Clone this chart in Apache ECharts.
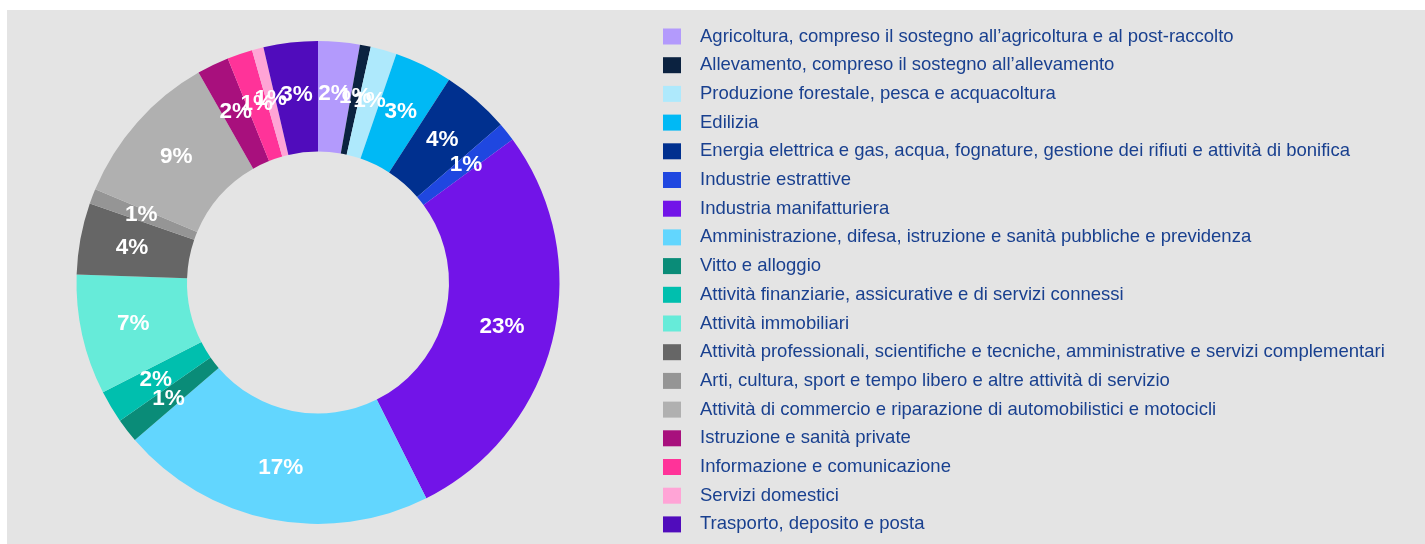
<!DOCTYPE html>
<html>
<head>
<meta charset="utf-8">
<script src="https://cdn.jsdelivr.net/npm/echarts@6/dist/echarts.min.js"></script>
<style>
    html, body { margin: 0; padding: 0; background: #ffffff; }
    #main { position: absolute; left: 7px; top: 10px; width: 1418px; height: 534px; }
</style>
</head>
<body>
<div id="main"></div>
<script>
// settori (ordine della legenda, in senso orario da ore 12)
var settori = [
    'Agricoltura, compreso il sostegno all\u2019agricoltura e al post-raccolto',
    'Allevamento, compreso il sostegno all\u2019allevamento',
    'Produzione forestale, pesca e acquacoltura',
    'Edilizia',
    'Energia elettrica e gas, acqua, fognature, gestione dei rifiuti e attività di bonifica',
    'Industrie estrattive',
    'Industria manifatturiera',
    'Amministrazione, difesa, istruzione e sanità pubbliche e previdenza',
    'Vitto e alloggio',
    'Attività finanziarie, assicurative e di servizi connessi',
    'Attività immobiliari',
    'Attività professionali, scientifiche e tecniche, amministrative e servizi complementari',
    'Arti, cultura, sport e tempo libero e altre attività di servizio',
    'Attività di commercio e riparazione di automobilistici e motocicli',
    'Istruzione e sanità private',
    'Informazione e comunicazione',
    'Servizi domestici',
    'Trasporto, deposito e posta'
];

// quote in % (stimate dal grafico)
var quote = [2.3, 0.6, 1.45, 3.2, 3.75, 1.03, 22.9, 17.45, 1.33, 1.8, 6.65, 3.95, 0.83, 8.65, 1.77, 1.4, 0.64, 3.0];

var colori = [
    '#b39afc', '#0b2240', '#aee9fc', '#00b9f5', '#00308f', '#1f47e0',
    '#7214e8', '#62d6fe', '#0a8c78', '#00bfae', '#66ebd9', '#666666',
    '#959595', '#b0b0b0', '#a8107d', '#ff3399', '#ffa4d6', '#500cbc'
];

var myChart = echarts.init(document.getElementById('main'));

var dati = [];
for (var i = 0; i < settori.length; i++) {
    dati.push({ name: settori[i], value: quote[i], itemStyle: { color: colori[i] } });
}

var option = {
    backgroundColor: '#e4e4e4',
    animation: false,
    legend: {
        orient: 'vertical',
        left: 651,
        top: 12,
        height: 530,
        itemWidth: 18,
        itemHeight: 16,
        itemGap: 9.7,
        icon: 'rect',
        selectedMode: false,
        data: settori,
        textStyle: {
            color: '#19408f',
            fontFamily: 'Liberation Sans',
            fontSize: 18.5,
            padding: [0, 0, 0, 14]
        }
    },
    series: [{
        type: 'pie',
        center: [311, 272.5],
        radius: [131, 241.5],
        startAngle: 90,
        clockwise: true,
        avoidLabelOverlap: false,
        silent: true,
        label: {
            show: true,
            position: 'inside',
            color: '#ffffff',
            fontFamily: 'Liberation Sans',
            fontWeight: 'bold',
            fontSize: 22.5,
            formatter: function (p) {
                return Math.round(p.value) + '%';
            }
        },
        labelLayout: { hideOverlap: false },
        labelLine: { show: false },
        itemStyle: { borderWidth: 0 },
        data: dati
    }]
};

myChart.setOption(option);
</script>
</body>
</html>
